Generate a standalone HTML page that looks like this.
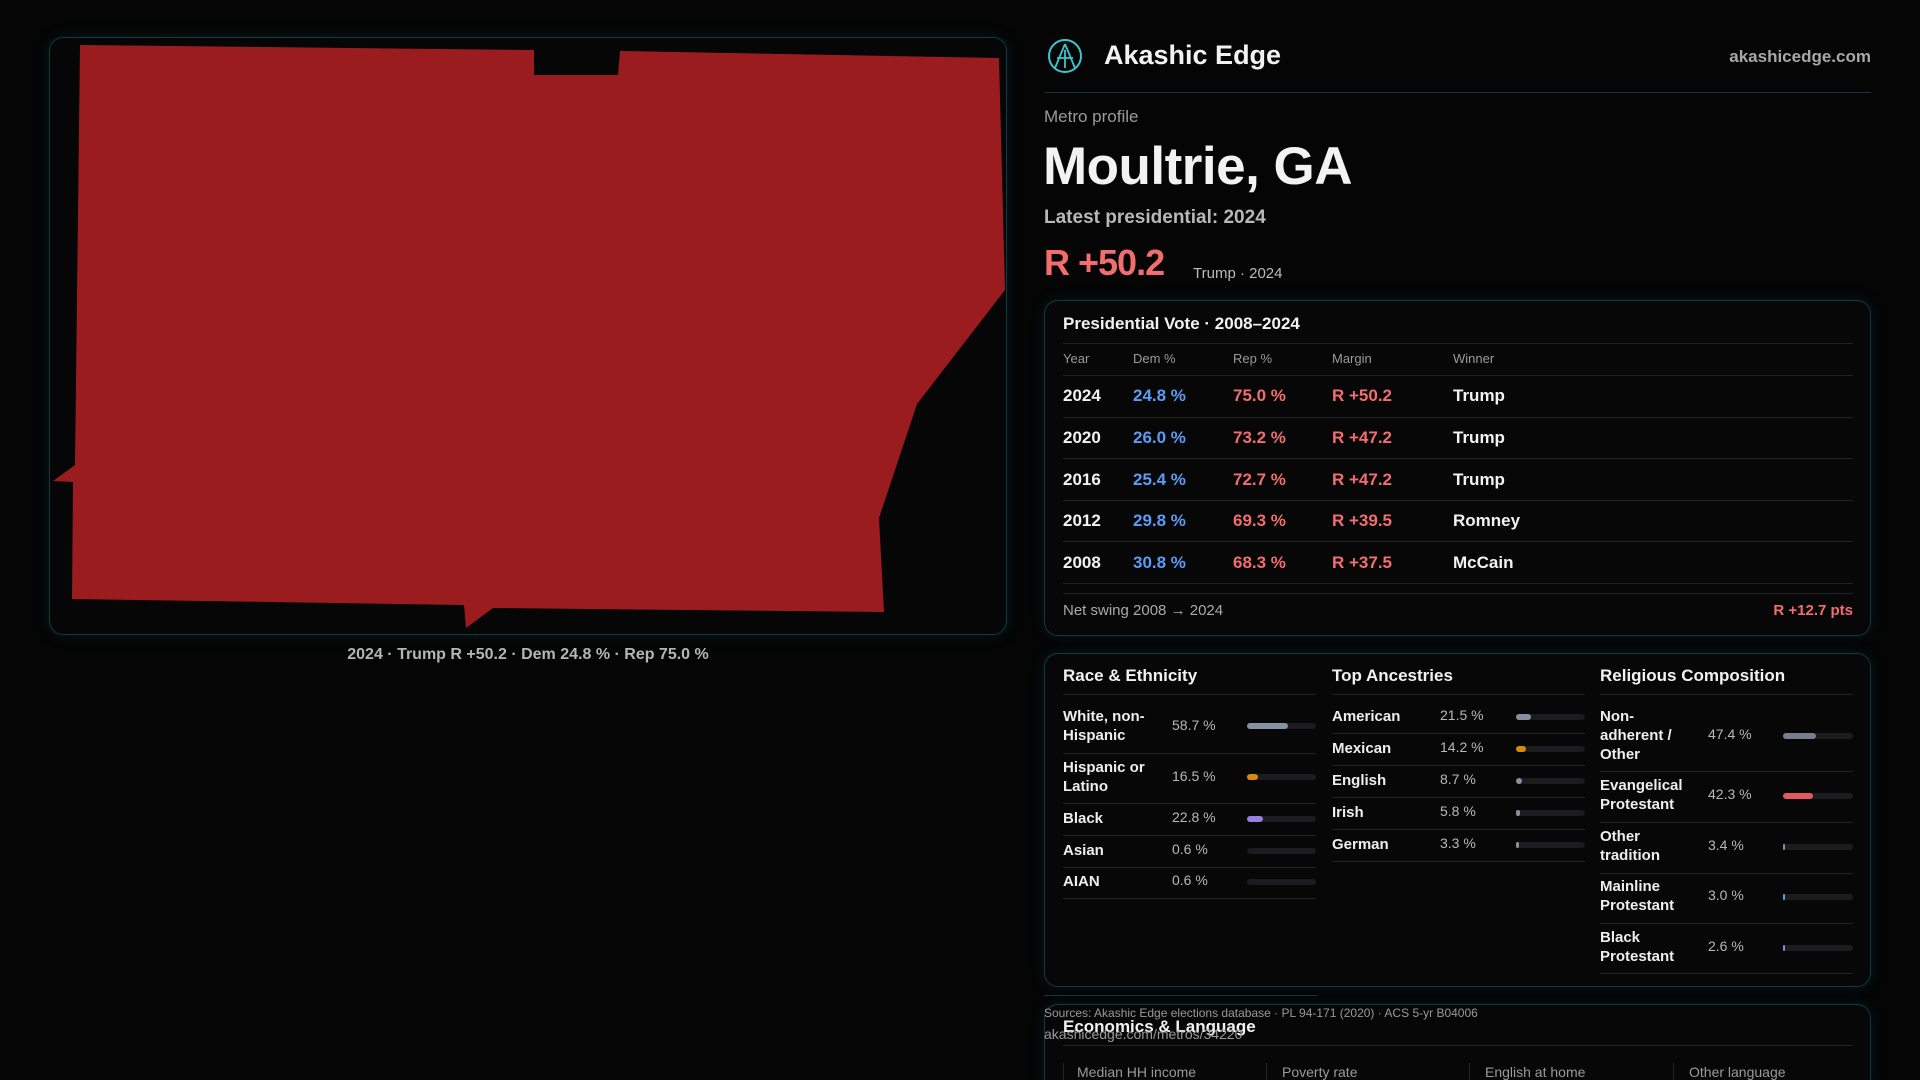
<!DOCTYPE html>
<html><head><meta charset="utf-8"><style>
*{margin:0;padding:0;box-sizing:border-box}
html{width:1920px;height:1080px;overflow:hidden}
body{width:1920px;height:1080px;overflow:hidden;background:#050505;font-family:"Liberation Sans",sans-serif;color:#f2f2f2;position:relative}
.a{position:absolute;white-space:nowrap}
.panel{position:absolute;border:1px solid #123a42;border-radius:14px;background:#070707;box-shadow:0 0 14px rgba(20,80,90,.25)}
.ln{position:absolute;height:1px;background:#222}
.g{color:#9a9a9a}
.blue{color:#5b9cf5}.red{color:#f26d6d}
.row{font-size:17px;font-weight:bold}
.lab{font-size:15px;font-weight:bold;line-height:19px;color:#eee}
.val{font-size:14px;color:#b8b8b8}
.bar{position:absolute;height:6px;border-radius:3px;background:#1c1c1e}
.bar i{position:absolute;left:0;top:0;height:6px;border-radius:3px}
</style></head><body>
<div class="panel" style="left:49px;top:37px;width:958px;height:598px;background:#060606"></div>
<svg class="a" style="left:0;top:0" width="1010" height="640">
<polygon fill="#9b1c1f" points="80,45 534,50 534,75 618,75 620,51 999,58 1005,290 917,404 879,518 884,612 493,608 466,628 464,605 72,599 73,482 53,481 75,465"/>
</svg>
<div class="a" style="left:49px;width:958px;top:646px;text-align:center;font-size:16px;font-weight:bold;color:#b5b5b5">2024 · Trump R +50.2 · Dem 24.8 % · Rep 75.0 %</div>

<svg class="a" style="left:1047px;top:38px" width="36" height="36"><circle cx="18" cy="18" r="16" fill="none" stroke="#3cc7d0" stroke-width="2"/><path d="M18 6 L8 30 M18 6 L28 30 M10 20 L26 20 M18 12 L18 30" stroke="#3cc7d0" stroke-width="1.8" fill="none"/></svg>
<div class="a" style="left:1104px;top:40px;font-size:27px;font-weight:bold">Akashic Edge</div>
<div class="a" style="right:49px;top:47px;font-size:17px;font-weight:bold;color:#a8a8a8">akashicedge.com</div>
<div class="ln" style="left:1044px;width:827px;top:92px;background:#1d3338"></div>
<div class="a g" style="left:1044px;top:107px;font-size:17px">Metro profile</div>
<div class="a" style="left:1043px;top:136px;font-size:53px;font-weight:bold;letter-spacing:-0.5px">Moultrie, GA</div>
<div class="a" style="left:1044px;top:207px;font-size:19px;font-weight:bold;color:#b8b8b8">Latest presidential: 2024</div>
<div class="a red" style="left:1044px;top:242px;font-size:36px;font-weight:bold;letter-spacing:-1px">R +50.2</div>
<div class="a" style="left:1193px;top:265px;font-size:15px;color:#bbb">Trump · 2024</div>

<div class="panel" style="left:1044px;top:300px;width:827px;height:336px"></div>
<div class="a" style="left:1063px;top:314px;font-size:17px;font-weight:bold">Presidential Vote · 2008–2024</div>
<div class="ln" style="left:1063px;width:790px;top:343px"></div>
<div class="a g" style="left:1063px;top:351px;font-size:13px">Year</div>
<div class="a g" style="left:1133px;top:351px;font-size:13px">Dem %</div>
<div class="a g" style="left:1233px;top:351px;font-size:13px">Rep %</div>
<div class="a g" style="left:1332px;top:351px;font-size:13px">Margin</div>
<div class="a g" style="left:1453px;top:351px;font-size:13px">Winner</div>
<div class="ln" style="left:1063px;width:790px;top:375px"></div>

<div class="a row" style="left:1063px;top:386px">2024</div><div class="a row blue" style="left:1133px;top:386px">24.8 %</div><div class="a row red" style="left:1233px;top:386px">75.0 %</div><div class="a row red" style="left:1332px;top:386px">R +50.2</div><div class="a row" style="left:1453px;top:386px">Trump</div>
<div class="ln" style="left:1063px;width:790px;top:417px"></div>
<div class="a row" style="left:1063px;top:428px">2020</div><div class="a row blue" style="left:1133px;top:428px">26.0 %</div><div class="a row red" style="left:1233px;top:428px">73.2 %</div><div class="a row red" style="left:1332px;top:428px">R +47.2</div><div class="a row" style="left:1453px;top:428px">Trump</div>
<div class="ln" style="left:1063px;width:790px;top:458px"></div>
<div class="a row" style="left:1063px;top:470px">2016</div><div class="a row blue" style="left:1133px;top:470px">25.4 %</div><div class="a row red" style="left:1233px;top:470px">72.7 %</div><div class="a row red" style="left:1332px;top:470px">R +47.2</div><div class="a row" style="left:1453px;top:470px">Trump</div>
<div class="ln" style="left:1063px;width:790px;top:500px"></div>
<div class="a row" style="left:1063px;top:511px">2012</div><div class="a row blue" style="left:1133px;top:511px">29.8 %</div><div class="a row red" style="left:1233px;top:511px">69.3 %</div><div class="a row red" style="left:1332px;top:511px">R +39.5</div><div class="a row" style="left:1453px;top:511px">Romney</div>
<div class="ln" style="left:1063px;width:790px;top:541px"></div>
<div class="a row" style="left:1063px;top:553px">2008</div><div class="a row blue" style="left:1133px;top:553px">30.8 %</div><div class="a row red" style="left:1233px;top:553px">68.3 %</div><div class="a row red" style="left:1332px;top:553px">R +37.5</div><div class="a row" style="left:1453px;top:553px">McCain</div>
<div class="ln" style="left:1063px;width:790px;top:583px"></div>
<div class="ln" style="left:1063px;width:790px;top:593px"></div>
<div class="a" style="left:1063px;top:602px;font-size:15px;color:#aaa">Net swing 2008 → 2024</div>
<div class="a red" style="right:67px;top:602px;font-size:15px;font-weight:bold">R +12.7 pts</div>

<div class="panel" style="left:1044px;top:653px;width:827px;height:334px"></div>
<div class="a" style="left:1063px;top:666px;font-size:17px;font-weight:bold">Race &amp; Ethnicity</div>
<div class="a" style="left:1332px;top:666px;font-size:17px;font-weight:bold">Top Ancestries</div>
<div class="a" style="left:1600px;top:666px;font-size:17px;font-weight:bold">Religious Composition</div>
<div class="ln" style="left:1063px;width:253px;top:694px"></div>
<div class="ln" style="left:1332px;width:253px;top:694px"></div>
<div class="ln" style="left:1600px;width:253px;top:694px"></div>

<div class="a lab" style="left:1063px;top:707px">White, non-<br>Hispanic</div><div class="a val" style="left:1172px;top:717px">58.7 %</div><div class="bar" style="left:1247px;top:723px;width:69px"><i style="width:41px;background:#8591a3"></i></div>
<div class="ln" style="left:1063px;width:253px;top:753px"></div>
<div class="a lab" style="left:1063px;top:758px">Hispanic or<br>Latino</div><div class="a val" style="left:1172px;top:768px">16.5 %</div><div class="bar" style="left:1247px;top:774px;width:69px"><i style="width:11px;background:#d98a0c"></i></div>
<div class="ln" style="left:1063px;width:253px;top:803px"></div>
<div class="a lab" style="left:1063px;top:809px">Black</div><div class="a val" style="left:1172px;top:809px">22.8 %</div><div class="bar" style="left:1247px;top:816px;width:69px"><i style="width:16px;background:#9b7ce0"></i></div>
<div class="ln" style="left:1063px;width:253px;top:835px"></div>
<div class="a lab" style="left:1063px;top:841px">Asian</div><div class="a val" style="left:1172px;top:841px">0.6 %</div><div class="bar" style="left:1247px;top:848px;width:69px"></div>
<div class="ln" style="left:1063px;width:253px;top:867px"></div>
<div class="a lab" style="left:1063px;top:872px">AIAN</div><div class="a val" style="left:1172px;top:872px">0.6 %</div><div class="bar" style="left:1247px;top:879px;width:69px"></div>
<div class="ln" style="left:1063px;width:253px;top:898px"></div>

<div class="a lab" style="left:1332px;top:707px">American</div><div class="a val" style="left:1440px;top:707px">21.5 %</div><div class="bar" style="left:1516px;top:714px;width:69px"><i style="width:15px;background:#8591a3"></i></div>
<div class="ln" style="left:1332px;width:253px;top:733px"></div>
<div class="a lab" style="left:1332px;top:739px">Mexican</div><div class="a val" style="left:1440px;top:739px">14.2 %</div><div class="bar" style="left:1516px;top:746px;width:69px"><i style="width:10px;background:#d98a0c"></i></div>
<div class="ln" style="left:1332px;width:253px;top:765px"></div>
<div class="a lab" style="left:1332px;top:771px">English</div><div class="a val" style="left:1440px;top:771px">8.7 %</div><div class="bar" style="left:1516px;top:778px;width:69px"><i style="width:6px;background:#8591a3"></i></div>
<div class="ln" style="left:1332px;width:253px;top:797px"></div>
<div class="a lab" style="left:1332px;top:803px">Irish</div><div class="a val" style="left:1440px;top:803px">5.8 %</div><div class="bar" style="left:1516px;top:810px;width:69px"><i style="width:4px;background:#8591a3"></i></div>
<div class="ln" style="left:1332px;width:253px;top:829px"></div>
<div class="a lab" style="left:1332px;top:835px">German</div><div class="a val" style="left:1440px;top:835px">3.3 %</div><div class="bar" style="left:1516px;top:842px;width:69px"><i style="width:3px;background:#8591a3"></i></div>
<div class="ln" style="left:1332px;width:253px;top:861px"></div>

<div class="a lab" style="left:1600px;top:707px">Non-<br>adherent /<br>Other</div><div class="a val" style="left:1708px;top:726px">47.4 %</div><div class="bar" style="left:1783px;top:733px;width:70px"><i style="width:33px;background:#767d8c"></i></div>
<div class="ln" style="left:1600px;width:253px;top:771px"></div>
<div class="a lab" style="left:1600px;top:776px">Evangelical<br>Protestant</div><div class="a val" style="left:1708px;top:786px">42.3 %</div><div class="bar" style="left:1783px;top:793px;width:70px"><i style="width:30px;background:#e05a5f"></i></div>
<div class="ln" style="left:1600px;width:253px;top:822px"></div>
<div class="a lab" style="left:1600px;top:827px">Other<br>tradition</div><div class="a val" style="left:1708px;top:837px">3.4 %</div><div class="bar" style="left:1783px;top:844px;width:70px"><i style="width:2px;background:#8591a3"></i></div>
<div class="ln" style="left:1600px;width:253px;top:873px"></div>
<div class="a lab" style="left:1600px;top:877px">Mainline<br>Protestant</div><div class="a val" style="left:1708px;top:887px">3.0 %</div><div class="bar" style="left:1783px;top:894px;width:70px"><i style="width:2px;background:#5b9cf5"></i></div>
<div class="ln" style="left:1600px;width:253px;top:923px"></div>
<div class="a lab" style="left:1600px;top:928px">Black<br>Protestant</div><div class="a val" style="left:1708px;top:938px">2.6 %</div><div class="bar" style="left:1783px;top:945px;width:70px"><i style="width:2px;background:#9b7ce0"></i></div>
<div class="ln" style="left:1600px;width:253px;top:973px"></div>

<div class="panel" style="left:1044px;top:1004px;width:827px;height:90px"></div>
<div class="ln" style="left:1044px;width:273px;top:995px;background:#1d3338"></div>
<div class="a" style="left:1044px;top:1006px;font-size:12px;color:#999">Sources: Akashic Edge elections database · PL 94-171 (2020) · ACS 5-yr B04006</div>
<div class="a" style="left:1063px;top:1017px;font-size:17px;font-weight:bold">Economics &amp; Language</div>
<div class="a" style="left:1044px;top:1026px;font-size:14px;color:#9a9a9a">akashicedge.com/metros/34220</div>
<div class="ln" style="left:1063px;width:790px;top:1045px"></div>
<div class="a" style="left:1063px;top:1063px;width:1px;height:20px;background:#222"></div>
<div class="a" style="left:1266px;top:1063px;width:1px;height:20px;background:#222"></div>
<div class="a" style="left:1469px;top:1063px;width:1px;height:20px;background:#222"></div>
<div class="a" style="left:1673px;top:1063px;width:1px;height:20px;background:#222"></div>
<div class="a g" style="left:1077px;top:1064px;font-size:14px">Median HH income</div>
<div class="a g" style="left:1282px;top:1064px;font-size:14px">Poverty rate</div>
<div class="a g" style="left:1485px;top:1064px;font-size:14px">English at home</div>
<div class="a g" style="left:1689px;top:1064px;font-size:14px">Other language</div>
</body></html>
